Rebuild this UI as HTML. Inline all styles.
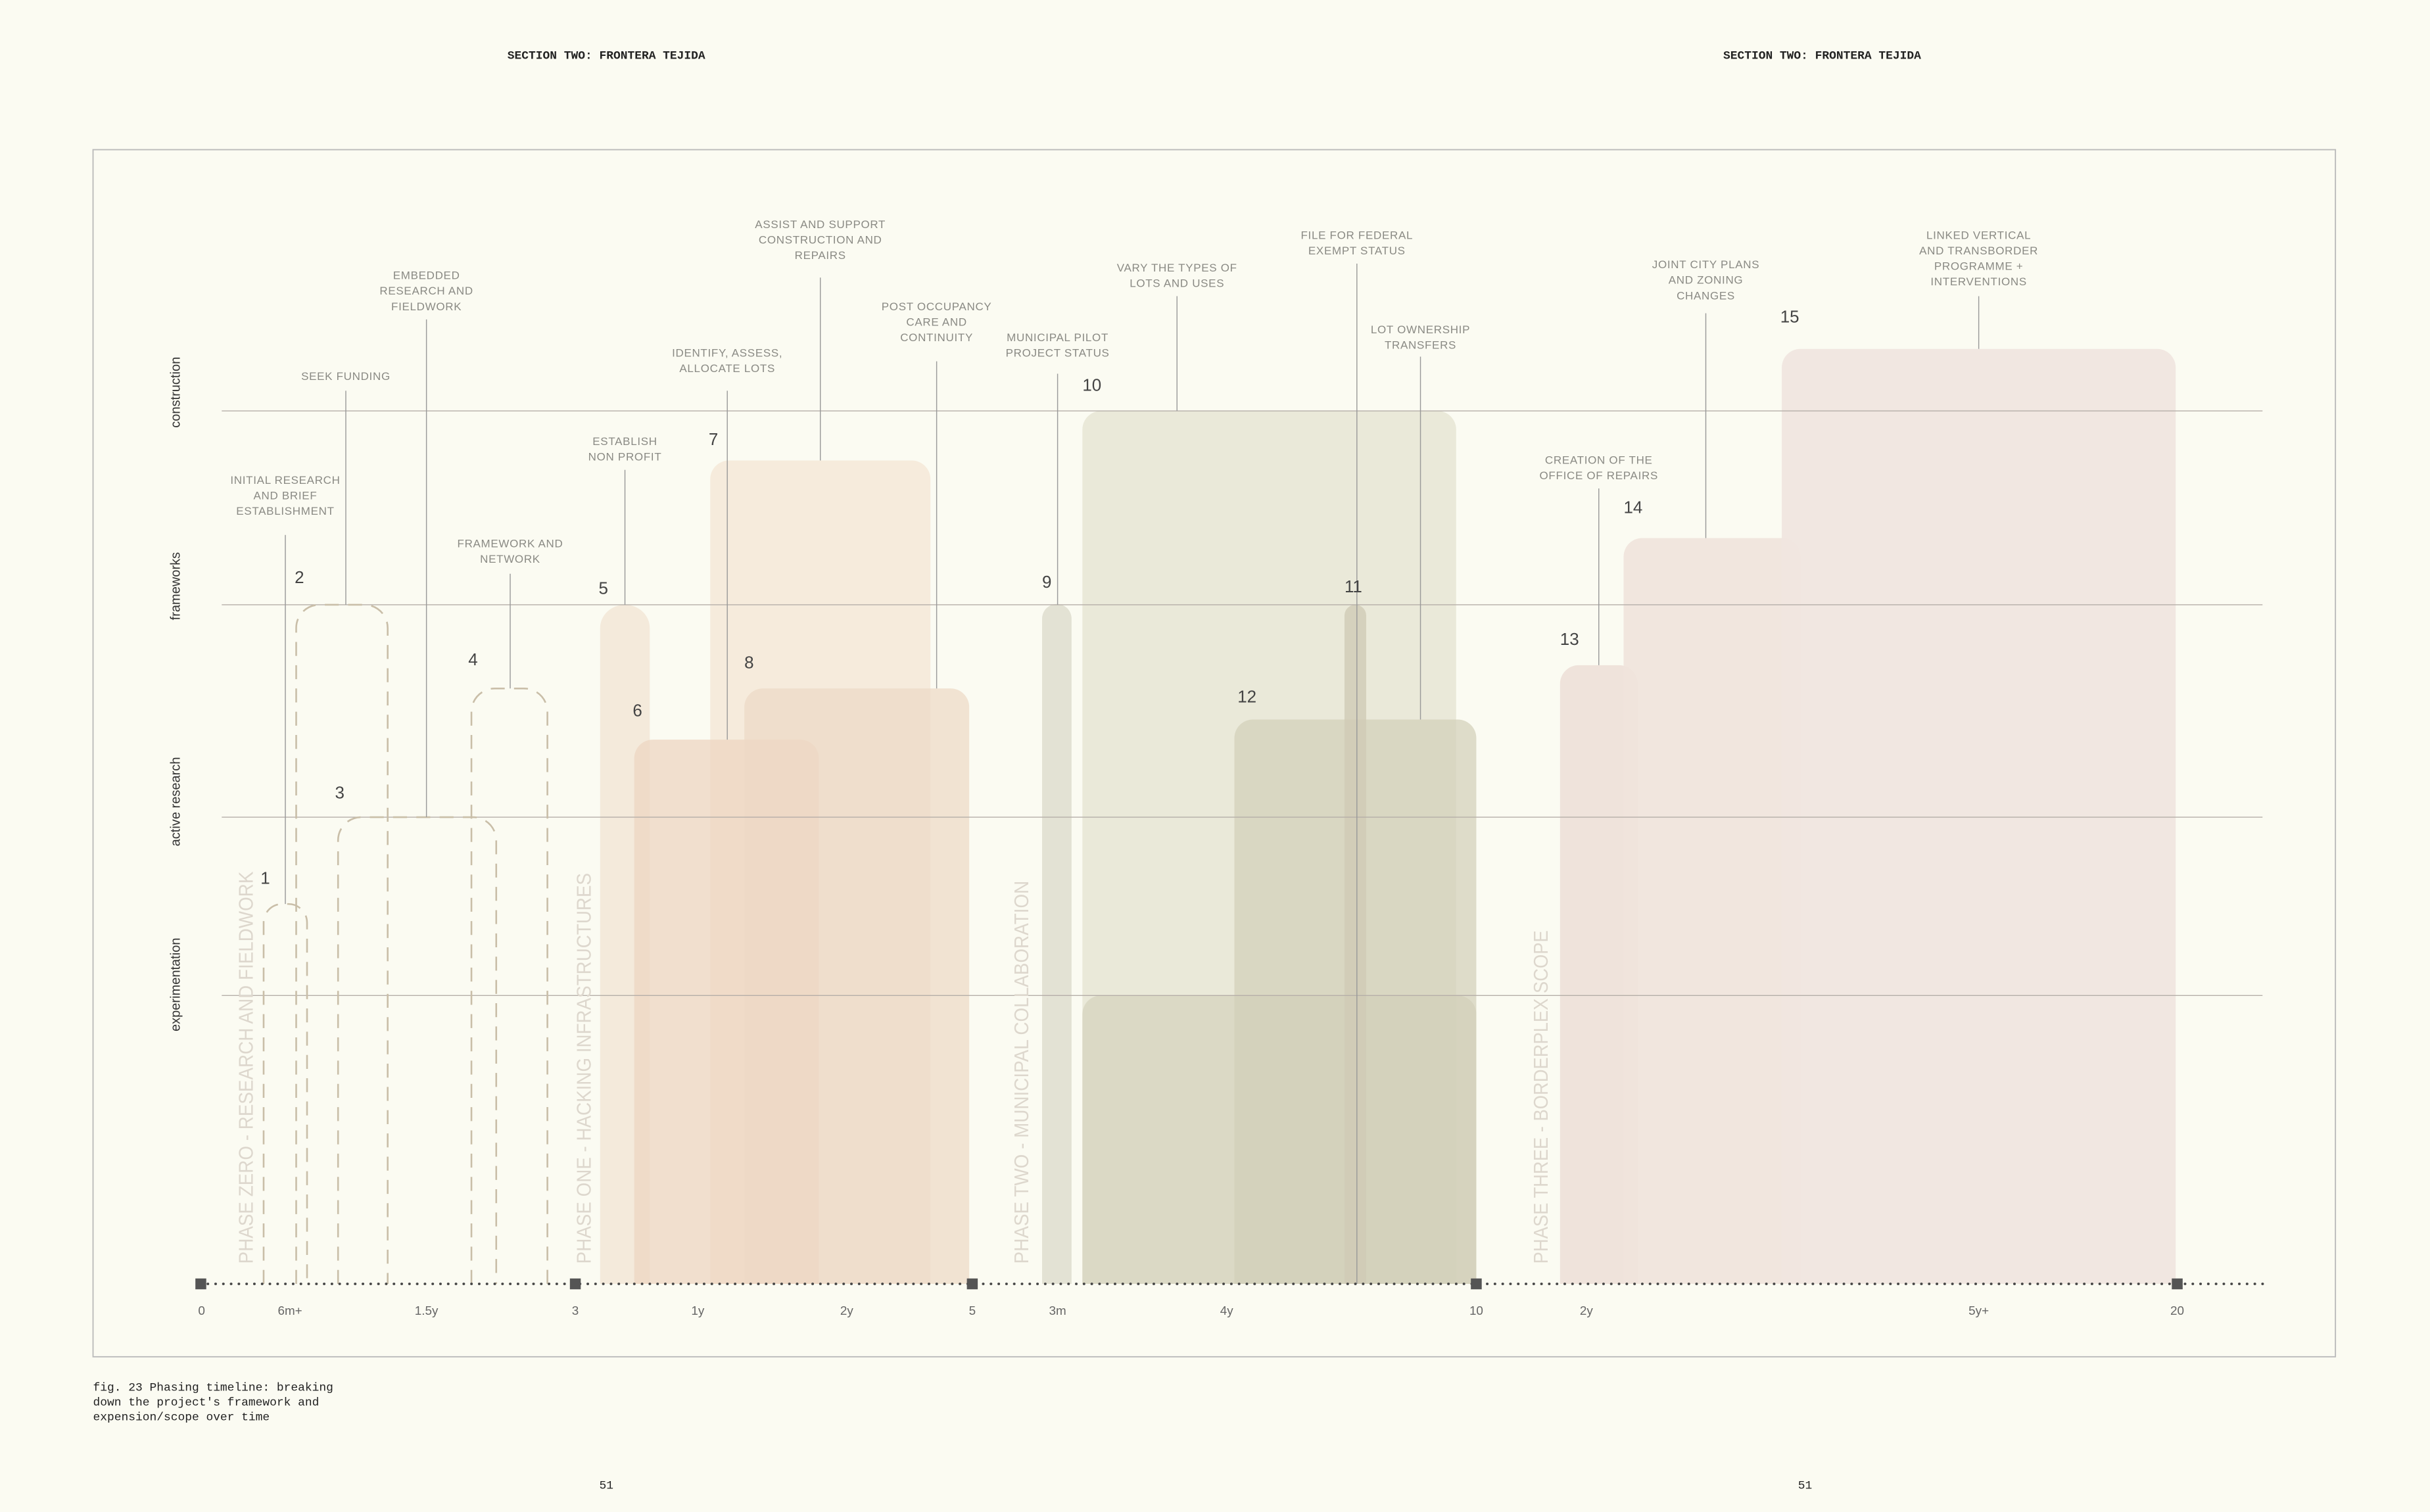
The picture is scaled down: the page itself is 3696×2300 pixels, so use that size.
<!DOCTYPE html>
<html><head><meta charset="utf-8"><style>
html,body{margin:0;padding:0;background:#fbfbf2;}
svg{display:block}
.ann{font-family:"Liberation Sans",sans-serif;font-size:7.2px;fill:#8a8a84;text-anchor:middle;letter-spacing:0.3px}
.num{font-family:"Liberation Sans",sans-serif;font-size:11px;fill:#444;}
.tick{font-family:"Liberation Sans",sans-serif;font-size:8px;fill:#666;text-anchor:middle}
.ylab{font-family:"Liberation Sans",sans-serif;font-size:8.5px;fill:#333;text-anchor:middle}
.phase{font-family:"Liberation Sans",sans-serif;font-size:13px;fill:#ddd7cd;}
.mono{font-family:"Liberation Mono",monospace;font-size:7.6px;fill:#222;}
.ld{stroke:#999;stroke-width:0.6}
.dash{fill:none;stroke:#c9bea8;stroke-width:1.1;stroke-dasharray:9 6}
</style></head><body>
<svg width="3696" height="2300" viewBox="0 0 1567 975.1" xmlns="http://www.w3.org/2000/svg">
<rect width="1567" height="975.1" fill="#fbfbf2"/>
<text class="mono" x="391" y="38" text-anchor="middle" font-weight="bold">SECTION TWO: FRONTERA TEJIDA</text>
<text class="mono" x="1175" y="38" text-anchor="middle" font-weight="bold">SECTION TWO: FRONTERA TEJIDA</text>
<rect x="60" y="96.5" width="1446" height="778.5" fill="none" stroke="#bbb" stroke-width="0.8"/>

<g>
<path d="M387 828V405a16 15 0 0 1 32 0V828Z" fill="#f1e2d2" opacity="0.7"/>
<path d="M458 828V309a12 12 0 0 1 12-12h118a12 12 0 0 1 12 12V828Z" fill="#f4e5d4" opacity="0.75"/>
<path d="M409 828V489a12 12 0 0 1 12-12h95a12 12 0 0 1 12 12V828Z" fill="#eed6c2" opacity="0.75"/>
<path d="M480 828V456a12 12 0 0 1 12-12h121a12 12 0 0 1 12 12V828Z" fill="#ecd8c4" opacity="0.7"/>
<path d="M672 828V399a9 9 0 0 1 19 0V828Z" fill="#e0dfd0" opacity="0.9"/>
<path d="M698 828V277a12 12 0 0 1 12-12h217a12 12 0 0 1 12 12V828Z" fill="#e6e5d5" opacity="0.85"/>
<path d="M698 828V654a12 12 0 0 1 12-12h230a12 12 0 0 1 12 12V828Z" fill="#d6d3bd" opacity="0.75"/>
<path d="M796 828V476a12 12 0 0 1 12-12h132a12 12 0 0 1 12 12V828Z" fill="#d2cfb8" opacity="0.7"/>
<path d="M867 828V397a7 7 0 0 1 14 0V828Z" fill="#cfcbb5" opacity="0.8"/>
<path d="M1006 828V441a12 12 0 0 1 12-12h26a12 12 0 0 1 12 12V828Z" fill="#ede0d8" opacity="0.9"/>
<path d="M1047 828V359a12 12 0 0 1 12-12h90a12 12 0 0 1 12 12V828Z" fill="#efe3dc" opacity="0.9"/>
<path d="M1149 828V237a12 12 0 0 1 12-12h230a12 12 0 0 1 12 12V828Z" fill="#f0e6df" opacity="0.95"/>
</g>
<g stroke="#b5aea8" stroke-width="0.6">
<line x1="143" y1="265" x2="1459" y2="265"/><line x1="143" y1="390" x2="1459" y2="390"/>
<line x1="143" y1="527" x2="1459" y2="527"/><line x1="143" y1="642" x2="1459" y2="642"/>
</g>
<path class="dash" d="M170 828V595a12 12 0 0 1 12-12h4a12 12 0 0 1 12 12V828"/>
<path class="dash" d="M191 828V405a15 15 0 0 1 15-15h29a15 15 0 0 1 15 15V828"/>
<path class="dash" d="M218 828V542a15 15 0 0 1 15-15h72a15 15 0 0 1 15 15V828"/>
<path class="dash" d="M304 828V459a15 15 0 0 1 15-15h19a15 15 0 0 1 15 15V828"/>

<g class="ld">
<line x1="184" y1="345" x2="184" y2="583"/><line x1="223" y1="252" x2="223" y2="390"/>
<line x1="275" y1="206" x2="275" y2="527"/><line x1="329" y1="370" x2="329" y2="444"/>
<line x1="403" y1="303" x2="403" y2="390"/><line x1="469" y1="252" x2="469" y2="477"/>
<line x1="529" y1="179" x2="529" y2="297"/><line x1="604" y1="233" x2="604" y2="444"/>
<line x1="682" y1="241" x2="682" y2="390"/><line x1="759" y1="191" x2="759" y2="265"/>
<line x1="875" y1="170" x2="875" y2="828"/><line x1="916" y1="230" x2="916" y2="464"/>
<line x1="1031" y1="315" x2="1031" y2="429"/><line x1="1100" y1="202" x2="1100" y2="347"/>
<line x1="1276" y1="191" x2="1276" y2="225"/>
</g>
<text class="ann" x="184" y="312">INITIAL RESEARCH<tspan x="184" dy="10">AND BRIEF</tspan><tspan x="184" dy="10">ESTABLISHMENT</tspan></text>
<text class="ann" x="223" y="245">SEEK FUNDING</text>
<text class="ann" x="275" y="180">EMBEDDED<tspan x="275" dy="10">RESEARCH AND</tspan><tspan x="275" dy="10">FIELDWORK</tspan></text>
<text class="ann" x="329" y="353">FRAMEWORK AND<tspan x="329" dy="10">NETWORK</tspan></text>
<text class="ann" x="403" y="287">ESTABLISH<tspan x="403" dy="10">NON PROFIT</tspan></text>
<text class="ann" x="469" y="230">IDENTIFY, ASSESS,<tspan x="469" dy="10">ALLOCATE LOTS</tspan></text>
<text class="ann" x="529" y="147">ASSIST AND SUPPORT<tspan x="529" dy="10">CONSTRUCTION AND</tspan><tspan x="529" dy="10">REPAIRS</tspan></text>
<text class="ann" x="604" y="200">POST OCCUPANCY<tspan x="604" dy="10">CARE AND</tspan><tspan x="604" dy="10">CONTINUITY</tspan></text>
<text class="ann" x="682" y="220">MUNICIPAL PILOT<tspan x="682" dy="10">PROJECT STATUS</tspan></text>
<text class="ann" x="759" y="175">VARY THE TYPES OF<tspan x="759" dy="10">LOTS AND USES</tspan></text>
<text class="ann" x="875" y="154">FILE FOR FEDERAL<tspan x="875" dy="10">EXEMPT STATUS</tspan></text>
<text class="ann" x="916" y="215">LOT OWNERSHIP<tspan x="916" dy="10">TRANSFERS</tspan></text>
<text class="ann" x="1031" y="299">CREATION OF THE<tspan x="1031" dy="10">OFFICE OF REPAIRS</tspan></text>
<text class="ann" x="1100" y="173">JOINT CITY PLANS<tspan x="1100" dy="10">AND ZONING</tspan><tspan x="1100" dy="10">CHANGES</tspan></text>
<text class="ann" x="1276" y="154">LINKED VERTICAL<tspan x="1276" dy="10">AND TRANSBORDER</tspan><tspan x="1276" dy="10">PROGRAMME +</tspan><tspan x="1276" dy="10">INTERVENTIONS</tspan></text>
<g class="num">
<text x="168" y="570">1</text><text x="190" y="376">2</text><text x="216" y="515">3</text><text x="302" y="429">4</text>
<text x="386" y="383">5</text><text x="408" y="462">6</text><text x="457" y="287">7</text><text x="480" y="431">8</text>
<text x="672" y="379">9</text><text x="698" y="252">10</text><text x="867" y="382">11</text><text x="798" y="453">12</text>
<text x="1006" y="416">13</text><text x="1047" y="331">14</text><text x="1148" y="208">15</text>
</g>
<text class="phase" transform="translate(163,815) rotate(-90)" textLength="253" lengthAdjust="spacingAndGlyphs">PHASE ZERO - RESEARCH AND FIELDWORK</text>
<text class="phase" transform="translate(381,815) rotate(-90)" textLength="252" lengthAdjust="spacingAndGlyphs">PHASE ONE - HACKING INFRASTRUCTURES</text>
<text class="phase" transform="translate(663,815) rotate(-90)" textLength="247" lengthAdjust="spacingAndGlyphs">PHASE TWO - MUNICIPAL COLLABORATION</text>
<text class="phase" transform="translate(998,815) rotate(-90)" textLength="215" lengthAdjust="spacingAndGlyphs">PHASE THREE - BORDERPLEX SCOPE</text>
<text class="ylab" transform="translate(116,253) rotate(-90)">construction</text>
<text class="ylab" transform="translate(116,378) rotate(-90)">frameworks</text>
<text class="ylab" transform="translate(116,517) rotate(-90)">active research</text>
<text class="ylab" transform="translate(116,635) rotate(-90)">experimentation</text>
<line x1="134" y1="828" x2="1460" y2="828" stroke="#444" stroke-width="1.6" stroke-dasharray="0.1 4.9" stroke-linecap="round"/>
<g fill="#555"><rect x="126" y="824.5" width="7" height="7"/><rect x="367.5" y="824.5" width="7" height="7"/><rect x="623.5" y="824.5" width="7" height="7"/><rect x="948.5" y="824.5" width="7" height="7"/><rect x="1400.5" y="824.5" width="7" height="7"/></g>
<g class="tick">
<text x="130" y="848">0</text><text x="187" y="848">6m+</text><text x="275" y="848">1.5y</text><text x="371" y="848">3</text>
<text x="450" y="848">1y</text><text x="546" y="848">2y</text><text x="627" y="848">5</text><text x="682" y="848">3m</text>
<text x="791" y="848">4y</text><text x="952" y="848">10</text><text x="1023" y="848">2y</text><text x="1276" y="848">5y+</text><text x="1404" y="848">20</text>
</g>
<text class="mono" x="60" y="897">fig. 23 Phasing timeline: breaking<tspan x="60" dy="9.5">down the project's framework and</tspan><tspan x="60" dy="9.5">expension/scope over time</tspan></text>
<text class="mono" x="391" y="960" text-anchor="middle" font-size="9">51</text>
<text class="mono" x="1164" y="960" text-anchor="middle" font-size="9">51</text>
</svg>
</body></html>
